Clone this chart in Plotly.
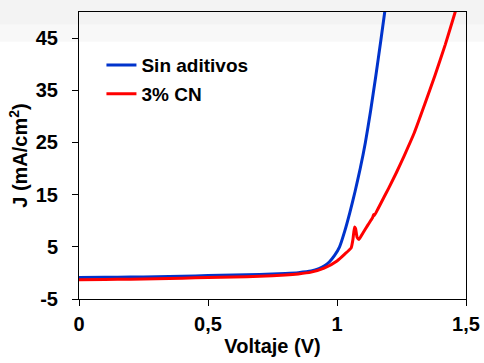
import plotly.graph_objects as go

# Data
v_blue = [0, 0.1, 0.2, 0.3, 0.4, 0.5, 0.6, 0.7, 0.8, 0.85, 0.9, 0.93, 0.95, 0.97, 0.99,
          1.01, 1.03, 1.05, 1.07, 1.09, 1.11, 1.13, 1.15, 1.17, 1.19]
j_blue = [-0.9, -0.85, -0.8, -0.72, -0.62, -0.52, -0.42, -0.3, -0.1, 0.05, 0.35, 0.8, 1.3, 2.1, 3.3,
          5.0, 8.0, 11.6, 15.6, 20.0, 25.0, 31.0, 37.6, 44.6, 51.8]

v_red = [0, 0.1, 0.2, 0.3, 0.4, 0.5, 0.6, 0.7, 0.8, 0.85, 0.9, 0.95, 1.0, 1.03, 1.055, 1.062,
         1.068, 1.072, 1.078, 1.085, 1.1, 1.12, 1.138, 1.142, 1.145, 1.16, 1.18, 1.2, 1.23,
         1.26, 1.3, 1.34, 1.38, 1.42, 1.46, 1.48]
j_red = [-1.3, -1.25, -1.2, -1.1, -1.0, -0.9, -0.8, -0.65, -0.4, -0.2, 0.15, 0.9, 2.3, 3.6, 4.8, 6.5,
         8.8, 8.5, 6.8, 6.4, 7.6, 9.2, 10.6, 11.2, 11.0, 12.4, 14.3, 16.2, 19.2,
         22.4, 26.9, 32.3, 37.9, 43.8, 50.3, 53.6]

names = ["Sin aditivos", "3% CN"]
colors = ["#0033cc", "#ff0000"]

x_ticks = [0, 0.5, 1, 1.5]
x_tick_labels = ["0", "0,5", "1", "1,5"]
y_ticks = [-5, 5, 15, 25, 35, 45]
y_tick_labels = ["-5", "5", "15", "25", "35", "45"]

font_family = "Arial, Liberation Sans, sans-serif"

fig = go.Figure()
fig.add_trace(go.Scatter(x=v_blue, y=j_blue, mode="lines", name="<b>" + names[0] + "</b>",
                         legendgroup="a",
                         line=dict(color=colors[0], width=3, shape="spline", smoothing=0.6)))
fig.add_trace(go.Scatter(x=v_red, y=j_red, mode="lines", name="<b>" + names[1] + "</b>",
                         legendgroup="b",
                         line=dict(color=colors[1], width=3, shape="spline", smoothing=0.4)))

fig.add_shape(type="rect", xref="paper", yref="paper", x0=-0.3, x1=1.1, y0=0.956, y1=1.05,
              fillcolor="#f3f3f3", line=dict(width=0), layer="below")
fig.add_shape(type="rect", xref="paper", yref="paper", x0=-0.3, x1=1.1, y0=0.8965, y1=0.956,
              fillcolor="#f8f8f8", line=dict(width=0), layer="below")

fig.update_layout(
    width=484, height=363,
    margin=dict(l=79, r=18, t=12, b=64),
    paper_bgcolor="white",
    plot_bgcolor="rgba(0,0,0,0)",
    font=dict(family=font_family, color="black"),
    showlegend=True,
    legend=dict(x=0.058, y=0.881, xanchor="left", yanchor="top",
                bgcolor="rgba(0,0,0,0)", traceorder="grouped", tracegroupgap=1,
                font=dict(size=19, family=font_family, color="black")),
    xaxis=dict(range=[0, 1.5], tickvals=x_ticks,
               ticktext=["<b>" + t + "</b>" for t in x_tick_labels],
               showgrid=False, zeroline=False, showline=True, linecolor="black", linewidth=1,
               mirror=True, ticks="outside", ticklen=6, tickcolor="black",
               ticklabelstandoff=1, automargin=False,
               tickfont=dict(size=20),
               title=dict(text="<b>Voltaje (V)</b>", font=dict(size=20), standoff=4)),
    yaxis=dict(range=[-5, 50], tickvals=y_ticks,
               ticktext=["<b>" + t + "</b>" for t in y_tick_labels],
               showgrid=False, zeroline=False, showline=True, linecolor="black", linewidth=1,
               mirror=True, ticks="outside", ticklen=6, tickcolor="black",
               ticklabelstandoff=10, automargin=False,
               tickfont=dict(size=20),
               title=dict(text="<b>J (mA/cm<sup>2</sup>)</b>", font=dict(size=20), standoff=2)),
)

fig.write_html("out.html", config={"displayModeBar": False},
               post_script="document.body.style.margin='0px';")
